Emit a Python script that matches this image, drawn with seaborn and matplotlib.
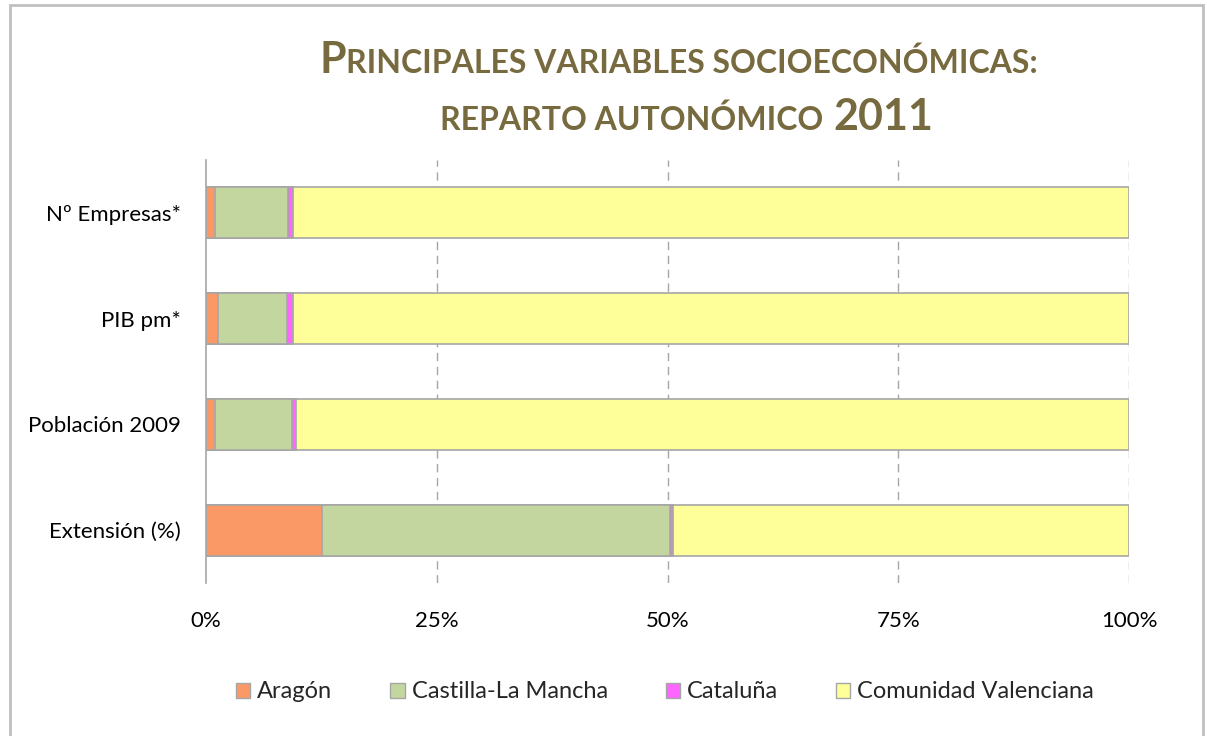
## for data
import pandas as pd
import numpy as np
## for plotting
import matplotlib
matplotlib.use("Agg")
import matplotlib.pyplot as plt
import matplotlib.patches as mpatches
import seaborn as sns

categorias = ["Nº Empresas*", "PIB pm*", "Población 2009", "Extensión (%)"]
regiones = ["Aragón", "Castilla-La Mancha", "Cataluña", "Comunidad Valenciana"]
aragon = [1.0, 1.3, 1.0, 12.6]
castilla = [7.9, 7.5, 8.3, 37.7]
cataluna = [0.55, 0.65, 0.5, 0.3]
valenciana = [90.55, 90.55, 90.2, 49.4]
colores = ["#FA9966", "#C4D69F", "#FF66FF", "#FFFF99"]
ticks = [0, 25, 50, 75, 100]
tick_labels = ["0%", "25%", "50%", "75%", "100%"]

dtf = pd.DataFrame({"categoria": categorias, "Aragón": aragon,
                    "Castilla-La Mancha": castilla, "Cataluña": cataluna,
                    "Comunidad Valenciana": valenciana})
# acumulados para apilar
acum = dtf[regiones].cumsum(axis=1)

sns.set_style("white")
plt.rcParams["font.family"] = ["Lato", "DejaVu Sans"]

W, H = 1207, 736
fig = plt.figure(figsize=(W / 100, H / 100), dpi=100)
ax = fig.add_axes([206 / W, 1 - 583 / H, (1129 - 206) / W, (583 - 160) / H])

# pintar de mayor a menor acumulado
for reg, col in reversed(list(zip(regiones, colores))):
    sns.barplot(x=acum[reg], y=dtf["categoria"], color=col, orient="h",
                width=0.48, edgecolor="#A6A6A6", linewidth=1.2, ax=ax,
                saturation=1, zorder=3)

ax.set_xlim(0, 100)
ax.set_ylim(3.5, -0.5)
ax.set_xticks(ticks)
ax.set_xticklabels(tick_labels)
ax.set_xlabel("")
ax.set_ylabel("")
ax.tick_params(axis="both", length=0, labelsize=16, colors="#000000")
ax.tick_params(axis="x", pad=20)
ax.tick_params(axis="y", pad=18)
for x in ticks[1:]:
    ax.axvline(x, color="#A6A6A6", ls=(0, (6, 4)), lw=1, zorder=1)
for s in ["top", "right", "bottom"]:
    ax.spines[s].set_visible(False)
ax.spines["left"].set_color("#A6A6A6")
ax.spines["left"].set_linewidth(1.2)
ax.spines["left"].set_zorder(4)

# leyenda
handles = [mpatches.Patch(facecolor=c, edgecolor="#A6A6A6", label=r) for r, c in zip(regiones, colores)]
fig.legend(handles=handles, loc="center", bbox_to_anchor=(665 / W, 1 - 692 / H), ncol=4,
           frameon=False, fontsize=17, handlelength=0.6, handleheight=0.6,
           handletextpad=0.3, columnspacing=2.45)

# titulo en versalitas
title_color = "#766A3E"
renderer = fig.canvas.get_renderer()

def versalitas(partes, y_px, cx_px, gap=0):
    txts = []
    for s, size in partes:
        t = fig.text(0, 1 - y_px / H, s, fontsize=size, fontweight="bold",
                     color=title_color, va="baseline", ha="left")
        txts.append(t)
    widths = [t.get_window_extent(renderer).width for t in txts]
    total = sum(widths) + gap * (len(txts) - 1)
    x = cx_px - total / 2
    for t, w in zip(txts, widths):
        t.set_x(x / W)
        x += w + gap

versalitas([("P", 31), ("RINCIPALES VARIABLES SOCIOECONÓMICAS:", 23)], 73, 679)
versalitas([("REPARTO AUTONÓMICO", 23), ("2011", 31)], 130, 687, gap=10)

# marco
fig.patches.append(mpatches.Rectangle((10 / W, -0.05), (1193 / W), 1 - 5 / H + 0.05,
                                      transform=fig.transFigure, fill=False,
                                      edgecolor="#BFBFBF", lw=2))

fig.savefig("out.png", dpi=100, facecolor="white")
